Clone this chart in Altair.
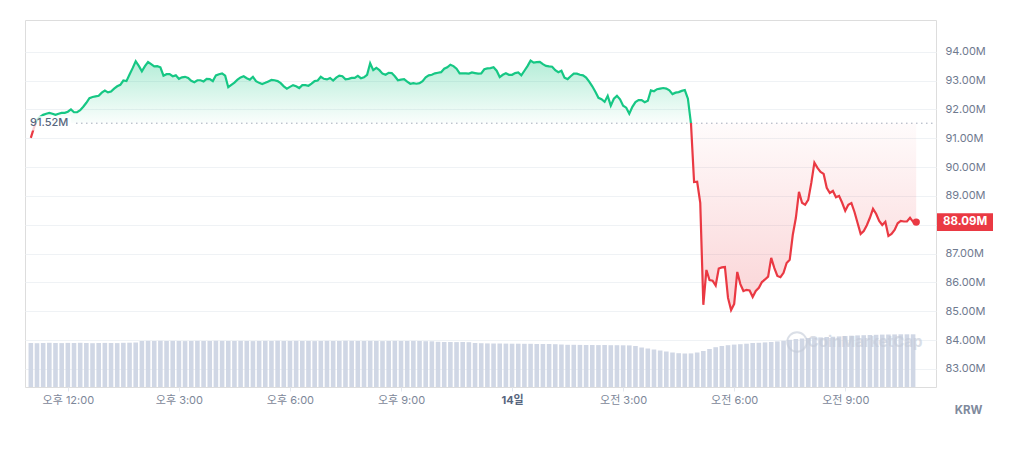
import altair as alt
import pandas as pd

BASE = 91.52
GREEN = "#16c784"
RED = "#ea3943"

# 5-minute prices (million KRW), one list per hour, starting 13th 11:00
h00 = [91.01, 91.36, 91.64, 91.74, 91.81, 91.85, 91.88, 91.85, 91.81, 91.85, 91.88, 91.88]
h01 = [91.92, 92.00, 91.90, 91.90, 91.97, 92.09, 92.23, 92.39, 92.43, 92.45, 92.47, 92.58]
h02 = [92.65, 92.59, 92.62, 92.72, 92.80, 92.85, 93.00, 92.98, 93.21, 93.43, 93.67, 93.51]
h03 = [93.32, 93.50, 93.64, 93.57, 93.49, 93.50, 93.46, 93.17, 93.22, 93.22, 93.15, 93.18]
h04 = [93.06, 93.11, 93.13, 93.09, 92.99, 92.94, 93.01, 93.01, 92.97, 93.06, 93.05, 92.98]
h05 = [93.18, 93.22, 93.25, 93.17, 92.77, 92.85, 92.93, 93.03, 93.11, 93.15, 93.08, 93.03]
h06 = [93.13, 92.98, 92.92, 92.88, 92.92, 92.97, 93.02, 93.01, 92.98, 92.91, 92.80, 92.72]
h07 = [92.78, 92.84, 92.80, 92.74, 92.84, 92.84, 92.82, 92.89, 92.98, 93.00, 93.13, 93.06]
h08 = [93.04, 93.09, 93.00, 93.10, 93.17, 93.15, 93.04, 93.06, 93.09, 93.09, 93.16, 93.08]
h09 = [93.11, 93.20, 93.60, 93.36, 93.44, 93.36, 93.24, 93.20, 93.27, 93.26, 93.15, 93.01]
h10 = [93.03, 93.05, 92.96, 92.89, 92.91, 92.89, 92.91, 92.98, 93.11, 93.18, 93.20, 93.25]
h11 = [93.27, 93.29, 93.41, 93.46, 93.55, 93.50, 93.41, 93.25, 93.25, 93.25, 93.24, 93.28]
h12 = [93.26, 93.24, 93.25, 93.39, 93.42, 93.43, 93.46, 93.34, 93.12, 93.20, 93.25, 93.20]
h13 = [93.20, 93.26, 93.28, 93.18, 93.34, 93.50, 93.69, 93.62, 93.64, 93.65, 93.57, 93.51]
h14 = [93.49, 93.48, 93.36, 93.29, 93.34, 93.10, 93.05, 93.15, 93.24, 93.24, 93.20, 93.18]
h15 = [93.10, 92.96, 92.80, 92.61, 92.40, 92.35, 92.26, 92.47, 92.13, 92.37, 92.47, 92.35]
h16 = [92.13, 92.06, 91.85, 92.09, 92.25, 92.32, 92.32, 92.25, 92.30, 92.66, 92.63, 92.70]
h17 = [92.72, 92.74, 92.72, 92.66, 92.53, 92.58, 92.60, 92.64, 92.67, 92.37, 91.50, 89.48]
h18 = [89.49, 88.76, 85.22, 86.43, 86.08, 86.06, 85.89, 86.48, 86.52, 86.53, 85.46, 85.04]
h19 = [85.25, 86.36, 85.94, 85.70, 85.74, 85.72, 85.49, 85.70, 85.81, 86.01, 86.10, 86.20]
h20 = [86.85, 86.50, 86.22, 86.18, 86.33, 86.67, 86.78, 87.65, 88.24, 89.14, 88.76, 88.69]
h21 = [88.86, 89.45, 90.15, 89.97, 89.83, 89.76, 89.28, 89.10, 89.17, 88.95, 89.00, 88.76]
h22 = [88.48, 88.69, 88.75, 88.44, 88.06, 87.68, 87.78, 87.98, 88.24, 88.55, 88.38, 88.13]
h23 = [87.99, 88.10, 87.61, 87.68, 87.82, 88.05, 88.13, 88.11, 88.11, 88.24, 88.10, 88.09]

# 10-minute volume (relative units), one list per hour
v00 = [4.40, 4.38, 4.40, 4.42, 4.40, 4.39]
v01 = [4.41, 4.40, 4.42, 4.40, 4.38, 4.40]
v02 = [4.41, 4.40, 4.39, 4.42, 4.43, 4.45]
v03 = [4.60, 4.61, 4.60, 4.62, 4.60, 4.61]
v04 = [4.60, 4.59, 4.60, 4.61, 4.60, 4.60]
v05 = [4.62, 4.61, 4.60, 4.60, 4.61, 4.60]
v06 = [4.59, 4.60, 4.61, 4.60, 4.62, 4.60]
v07 = [4.60, 4.61, 4.60, 4.60, 4.59, 4.60]
v08 = [4.61, 4.60, 4.60, 4.62, 4.61, 4.60]
v09 = [4.60, 4.61, 4.60, 4.59, 4.60, 4.61]
v10 = [4.60, 4.60, 4.61, 4.60, 4.58, 4.57]
v11 = [4.52, 4.50, 4.50, 4.49, 4.50, 4.48]
v12 = [4.40, 4.38, 4.36, 4.35, 4.35, 4.34]
v13 = [4.33, 4.33, 4.32, 4.32, 4.31, 4.30]
v14 = [4.30, 4.28, 4.25, 4.22, 4.22, 4.21]
v15 = [4.20, 4.20, 4.19, 4.20, 4.18, 4.18]
v16 = [4.17, 4.16, 4.10, 3.95, 3.85, 3.75]
v17 = [3.65, 3.55, 3.45, 3.38, 3.35, 3.36]
v18 = [3.45, 3.60, 3.80, 3.98, 4.10, 4.18]
v19 = [4.24, 4.28, 4.33, 4.40, 4.42, 4.46]
v20 = [4.50, 4.56, 4.62, 4.72, 4.80, 4.85]
v21 = [4.90, 4.93, 4.96, 5.00, 5.03, 5.06]
v22 = [5.10, 5.13, 5.16, 5.18, 5.20, 5.22]
v23 = [5.24, 5.25, 5.26, 5.27, 5.27, 5.27]

y_ticks = [83, 84, 85, 86, 87, 88, 89, 90, 91, 92, 93, 94]

prices = (h00 + h01 + h02 + h03 + h04 + h05 + h06 + h07 + h08 + h09 + h10 + h11
          + h12 + h13 + h14 + h15 + h16 + h17 + h18 + h19 + h20 + h21 + h22 + h23)
volumes = (v00 + v01 + v02 + v03 + v04 + v05 + v06 + v07 + v08 + v09 + v10 + v11
           + v12 + v13 + v14 + v15 + v16 + v17 + v18 + v19 + v20 + v21 + v22 + v23)

times = pd.date_range("2024-06-13 11:00", periods=len(prices), freq="5min")
df = pd.DataFrame({"t": times, "p": prices})
df["top"] = df["p"].clip(lower=BASE)
df["bot"] = df["p"].clip(upper=BASE)
df["base"] = BASE

vt = pd.date_range("2024-06-13 11:00", periods=len(volumes), freq="10min")
vdf = pd.DataFrame({"t": vt, "v": volumes})

LAST = prices[-1]
W, H = 911, 367
FONT = "Inter, 'Noto Sans CJK KR', sans-serif"

xscale = alt.Scale(domain=[alt.DateTime(year=2024, month=6, date=13, hours=10, minutes=58, seconds=40),
                           alt.DateTime(year=2024, month=6, date=14, hours=11, minutes=19, seconds=0)])
ysc = alt.Scale(domain=[82.37, 95.1], nice=False, zero=False)

xvals = [alt.DateTime(year=2024, month=6, date=13, hours=h) for h in (12, 15, 18, 21)] + \
        [alt.DateTime(year=2024, month=6, date=14, hours=h) for h in (0, 3, 6, 9)]

x_axis = alt.Axis(
    values=xvals,
    labelExpr="hours(datum.value) == 0 ? '14일' : (hours(datum.value) < 12 ? '오전 ' : '오후 ') + (hours(datum.value) % 12 == 0 ? 12 : hours(datum.value) % 12) + ':00'",
    tickSize=4, tickColor="#e3e7ee", domain=False, grid=False,
    labelColor={"condition": {"test": "hours(datum.value) == 0", "value": "#58667e"}, "value": "#7d8799"},
    labelFontWeight={"condition": {"test": "hours(datum.value) == 0", "value": "bold"}, "value": "normal"},
    labelFont=FONT, labelFontSize=11, labelPadding=3, title=None, labelOverlap=False, labelFlush=False,
)
X = alt.X("t:T", scale=xscale, axis=x_axis)

# the label hidden behind the current-price tag is left blank
y_axis = alt.Axis(
    orient="right", values=y_ticks,
    labelExpr=f"abs(datum.value - {LAST}) < 0.4 ? '' : format(datum.value, '.2f') + 'M'",
    ticks=False, domain=False, grid=True, gridColor="#eff2f5",
    labelColor="#6f7a8f", labelFont=FONT, labelFontSize=11, labelPadding=9,
    title="KRW", titleAngle=0, titleX=32, titleY=390, titleAlign="center", titleBaseline="middle",
    titleColor="#808a9d", titleFontWeight="bold", titleFont=FONT, titleFontSize=11.5,
)


def Y(field):
    return alt.Y(field, scale=ysc, axis=y_axis)


vol = alt.Chart(vdf).mark_bar(size=4.6, color="#d0d7e5").encode(
    x=X,
    y=alt.Y("v:Q", scale=alt.Scale(domain=[0, 36.7]), axis=None),
)

pmax, pmin = max(prices), min(prices)
frac = (pmax - BASE) / (pmax - pmin)

green_fill = alt.LinearGradient(gradient="linear", x1=0, y1=0, x2=0, y2=1, stops=[
    alt.GradientStop(offset=0, color="rgba(22,199,132,0.32)"),
    alt.GradientStop(offset=1, color="rgba(22,199,132,0.02)")])
red_fill = alt.LinearGradient(gradient="linear", x1=0, y1=0, x2=0, y2=1, stops=[
    alt.GradientStop(offset=0, color="rgba(234,57,67,0.02)"),
    alt.GradientStop(offset=1, color="rgba(234,57,67,0.22)")])
line_stroke = alt.LinearGradient(gradient="linear", x1=0, y1=0, x2=0, y2=1, stops=[
    alt.GradientStop(offset=0, color=GREEN),
    alt.GradientStop(offset=frac, color=GREEN),
    alt.GradientStop(offset=frac, color=RED),
    alt.GradientStop(offset=1, color=RED)])

base_chart = alt.Chart(df)
area_g = base_chart.mark_area(fill=green_fill).encode(x=X, y=Y("top:Q"), y2="base:Q")
area_r = base_chart.mark_area(fill=red_fill).encode(x=X, y=Y("bot:Q"), y2="base:Q")
line = base_chart.mark_line(stroke=line_stroke, strokeWidth=2.2).encode(x=X, y=Y("p:Q"))

last = df.tail(1)
dot = alt.Chart(last).mark_circle(size=55, color=RED, opacity=1).encode(x=X, y=Y("p:Q"))

bdf = pd.DataFrame({"p": [BASE], "label": [f"{BASE:.2f}M"]})
rule = alt.Chart(bdf).mark_rule(strokeDash=[1.5, 3.5], color="#a3abba", strokeWidth=1).encode(
    x=alt.value(51), x2=alt.value(W), y=Y("p:Q"))
bbox = alt.Chart(bdf).mark_point(shape="M-1,-0.33L1,-0.33L1,0.33L-1,0.33Z", size=1936, filled=True,
                                 fill="white", opacity=0.75, strokeWidth=0).encode(
    x=alt.value(24), y=Y("p:Q"))
btxt = alt.Chart(bdf).mark_text(align="left", baseline="middle", font=FONT, fontSize=11,
                                fontWeight=500, color="#58667e").encode(
    x=alt.value(5), y=Y("p:Q"), text="label:N")

ldf = pd.DataFrame({"p": [LAST], "label": [f"{LAST:.2f}M"]})
box = alt.Chart(ldf).mark_point(shape="M-1,-0.32L1,-0.32L1,0.32L-1,0.32Z", size=3136, filled=True,
                                fill=RED, opacity=1, strokeWidth=0).encode(
    x=alt.value(W + 29), y=Y("p:Q"))
btxt2 = alt.Chart(ldf).mark_text(align="center", baseline="middle", font=FONT, fontSize=11.5,
                                 fontWeight="bold", color="white").encode(
    x=alt.value(W + 29), y=Y("p:Q"), text="label:N")

wdf = pd.DataFrame({"label": ["CoinMarketCap"]})
wm_logo = alt.Chart(wdf).mark_point(shape="circle", size=380, filled=False, color="#c3cad8",
                                    strokeWidth=2, opacity=0.6).encode(
    x=alt.value(772), y=alt.value(322))
wm_text = alt.Chart(wdf).mark_text(align="center", baseline="middle", font=FONT, fontSize=15,
                                   fontWeight="bold", color="#c3cad8", opacity=0.6).encode(
    x=alt.value(840), y=alt.value(322), text="label:N")

price_layers = alt.layer(area_g, area_r, rule, line, dot, bbox, btxt, box, btxt2, wm_logo, wm_text)

chart = alt.layer(vol, price_layers).resolve_scale(y="independent").properties(
    width=W, height=H,
    padding={"left": 17, "top": 12, "right": 80, "bottom": 50},
    autosize=alt.AutoSizeParams(type="none"),
).configure_view(stroke="#eef1f5", strokeWidth=1).configure(background="white")

chart.save("out.html", embed_options={"renderer": "svg", "actions": False})
